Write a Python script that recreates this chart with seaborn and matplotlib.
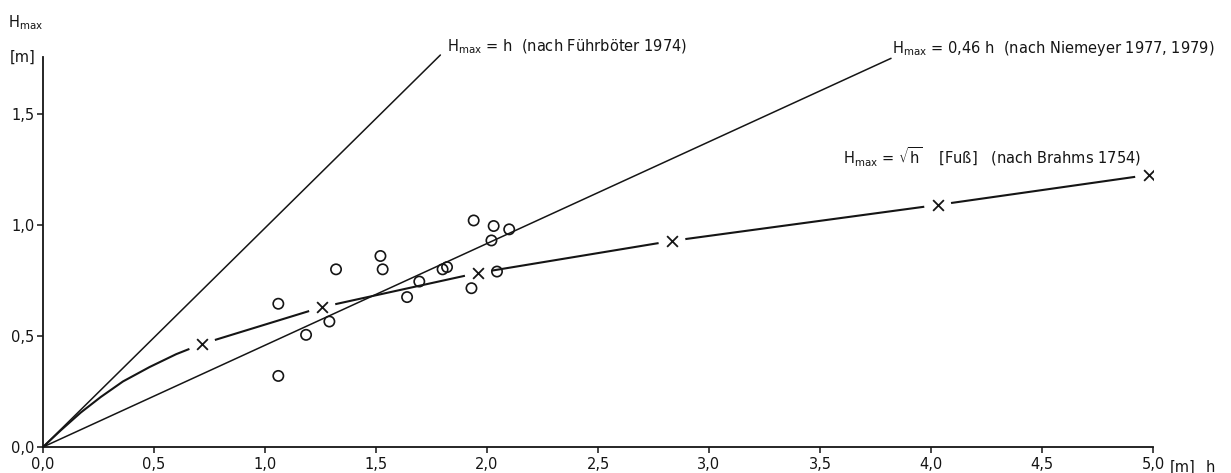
import matplotlib
matplotlib.use("Agg")
import matplotlib.pyplot as plt
import seaborn as sns
import pandas as pd

# ---- data ----
# measured points (open circles)
obs_h = [1.06, 1.06, 1.185, 1.29, 1.32, 1.52, 1.53, 1.64, 1.695, 1.80, 1.82, 1.93, 1.94, 2.02, 2.03, 2.045, 2.10]
obs_H = [0.645, 0.32, 0.505, 0.565, 0.80, 0.86, 0.80, 0.675, 0.745, 0.80, 0.81, 0.715, 1.02, 0.93, 0.995, 0.79, 0.98]

# Brahms curve (crosses) H = sqrt(h) [Fuß]
brahms_h = [0.716, 1.257, 1.96, 2.833, 4.03, 4.98]
brahms_H = [0.464, 0.63, 0.784, 0.928, 1.09, 1.225]
curve_h = [0.0, 0.08, 0.17, 0.26, 0.36, 0.48, 0.60, 0.716, 1.257, 1.96, 2.833, 4.03, 4.98]
curve_H = [0.0, 0.075, 0.155, 0.225, 0.295, 0.36, 0.418, 0.464, 0.63, 0.784, 0.928, 1.09, 1.225]

# straight relations
fuhrboter_h = [0.0, 1.79]
fuhrboter_H = [0.0, 1.765]
niemeyer_h = [0.0, 3.82]
niemeyer_H = [0.0, 1.75]

x_ticks = [0.0, 0.5, 1.0, 1.5, 2.0, 2.5, 3.0, 3.5, 4.0, 4.5, 5.0]
x_ticklabels = ["0,0", "0,5", "1,0", "1,5", "2,0", "2,5", "3,0", "3,5", "4,0", "4,5", "5,0"]
y_ticks = [0.0, 0.5, 1.0, 1.5]
y_ticklabels = ["0,0", "0,5", "1,0", "1,5"]

label_fuhr = r"$\mathregular{H_{max}}$ = h  (nach Führböter 1974)"
label_niem = r"$\mathregular{H_{max}}$ = 0,46 h  (nach Niemeyer 1977, 1979)"
label_brahms = r"$\mathregular{H_{max}}$ = $\sqrt{\mathregular{h}}$    [Fuß]   (nach Brahms 1754)"

# ---- style ----
sns.set_theme(style="white")
plt.rcParams["font.family"] = ["DejaVu Sans"]
plt.rcParams["mathtext.fontset"] = "dejavusans"
INK = "#151515"

W, Hpx = 1231, 473
fig = plt.figure(figsize=(W / 100, Hpx / 100), dpi=100)
ax = fig.add_axes([43 / W, 26 / Hpx, 1110 / W, 390 / Hpx])

# Brahms curve
sns.lineplot(x=curve_h, y=curve_H, ax=ax, sort=False, estimator=None,
             color=INK, lw=1.5, zorder=2)
# white halos creating gaps around the crosses
ax.scatter(brahms_h, brahms_H, s=380, color="white", edgecolors="none", zorder=3)

# straight lines
sns.lineplot(x=fuhrboter_h, y=fuhrboter_H, ax=ax, sort=False, estimator=None,
             color=INK, lw=1.1, zorder=4)
sns.lineplot(x=niemeyer_h, y=niemeyer_H, ax=ax, sort=False, estimator=None,
             color=INK, lw=1.1, zorder=4)
for ln in ax.get_lines():
    ln.set_clip_on(False)

# observations
obs = pd.DataFrame({"h": obs_h, "H": obs_H})
sns.scatterplot(data=obs, x="h", y="H", ax=ax, marker="o", s=55,
                facecolor="none", edgecolor=INK, linewidth=1.2, zorder=5)
# crosses
br = pd.DataFrame({"h": brahms_h, "H": brahms_H})
sns.scatterplot(data=br, x="h", y="H", ax=ax, marker="x", s=60,
                color=INK, linewidth=1.3, zorder=6)

ax.set_xlim(0, 5.0)
ax.set_ylim(0, 1.756)
ax.set_xlabel("")
ax.set_ylabel("")

for s in ["top", "right"]:
    ax.spines[s].set_visible(False)
for s in ["left", "bottom"]:
    ax.spines[s].set_color(INK)
    ax.spines[s].set_linewidth(1.3)

ax.set_xticks(x_ticks)
ax.set_xticklabels(x_ticklabels)
ax.set_yticks(y_ticks)
ax.set_yticklabels(y_ticklabels)
ax.tick_params(axis="both", which="major", direction="out", length=4, width=1.1,
               color=INK, labelcolor=INK, labelsize=10.5, pad=2,
               bottom=True, left=True)
ax.tick_params(axis="x", pad=3)
ax.grid(False)

# axis captions
fig.text(8 / W, 1 - 23 / Hpx, r"$\mathregular{H_{max}}$", fontsize=10.5, color=INK,
         ha="left", va="center")
fig.text(10 / W, 1 - 57 / Hpx, "[m]", fontsize=10.5, color=INK, ha="left", va="center")
fig.text(1170 / W, 1 - 467 / Hpx, "[m]", fontsize=10.5, color=INK, ha="left", va="center")
fig.text(1206 / W, 1 - 467 / Hpx, "h", fontsize=10.5, color=INK, ha="left", va="center")

# line labels
fig.text(447 / W, 1 - 47 / Hpx, label_fuhr, fontsize=10.5, color=INK, ha="left", va="center")
fig.text(892 / W, 1 - 48 / Hpx, label_niem, fontsize=10.5, color=INK, ha="left", va="center")
fig.text(843 / W, 1 - 157 / Hpx, label_brahms, fontsize=10.5, color=INK, ha="left", va="center")

fig.savefig("out.png", dpi=100, facecolor="white")
